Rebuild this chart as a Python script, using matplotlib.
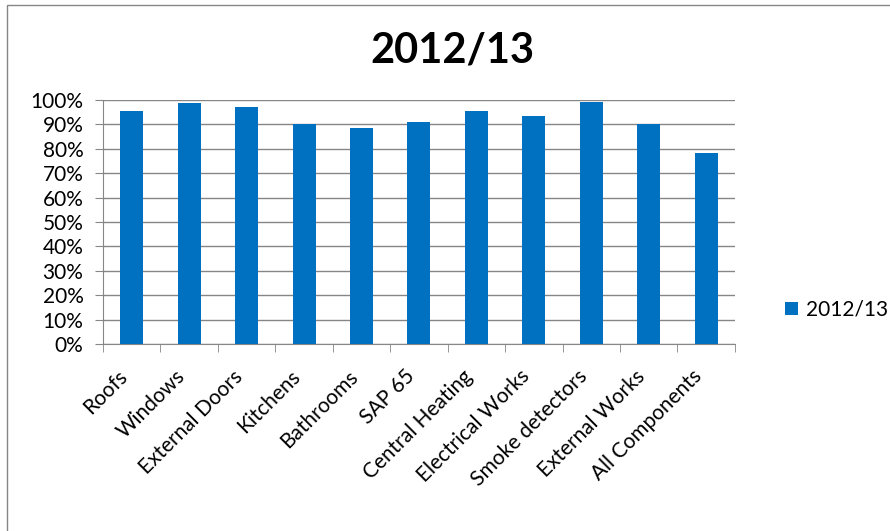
import matplotlib.pyplot as plt
from matplotlib.patches import Rectangle
from matplotlib.ticker import PercentFormatter
from matplotlib.transforms import ScaledTranslation

plt.rcParams['font.family'] = ['Lato', 'DejaVu Sans']

categories = ['Roofs', 'Windows', 'External Doors', 'Kitchens', 'Bathrooms', 'SAP 65',
              'Central Heating', 'Electrical Works', 'Smoke detectors', 'External Works',
              'All Components']
values = [95.3, 98.5, 96.9, 90.0, 88.4, 90.9, 95.3, 93.3, 99.3, 90.0, 78.3]
series_name = '2012/13'
blue = '#0070C0'

fig = plt.figure(figsize=(8.9, 5.31), dpi=100)
# outer chart border
fig.patches.append(Rectangle((0.008, -0.01), 1.1, 1.0, transform=fig.transFigure,
                             fill=False, edgecolor='#868686', linewidth=1))

ax = fig.add_axes([0.1157, 0.352, 0.71, 0.46])
x = range(len(categories))
ax.bar(x, values, width=0.4, color=blue, label=series_name, zorder=3)

ax.set_ylim(0, 100)
ax.set_xlim(-0.5, len(categories) - 0.5)
ax.set_yticks(range(0, 101, 10))
ax.yaxis.set_major_formatter(PercentFormatter(decimals=0))
ax.grid(axis='y', color='#868686', linewidth=1, zorder=0)

ax.set_xticks(list(x))
ax.set_xticklabels(categories, rotation=45, ha='right', rotation_mode='anchor', fontsize=15)
ax.tick_params(axis='x', which='major', length=0, pad=16)
# shift labels a bit left, like excel does
shift = ScaledTranslation(-14 / 100, 0, fig.dpi_scale_trans)
for lab in ax.get_xticklabels():
    lab.set_transform(lab.get_transform() + shift)
ax.set_xticks([i - 0.5 for i in range(len(categories) + 1)], minor=True)
ax.tick_params(axis='x', which='minor', length=6, color='#868686')
ax.tick_params(axis='y', length=6, color='#868686', labelsize=15, pad=8)

for side in ['top', 'right']:
    ax.spines[side].set_visible(False)
for side in ['left', 'bottom']:
    ax.spines[side].set_color('#868686')

fig.text(0.508, 0.905, '2012/13', ha='center', va='center', fontsize=30, fontweight='bold')
ax.legend(loc='center left', bbox_to_anchor=(1.05, 0.14), frameon=False, fontsize=15,
          handlelength=0.6, handleheight=0.6, handletextpad=0.4)

plt.savefig('out.png', format='png')
